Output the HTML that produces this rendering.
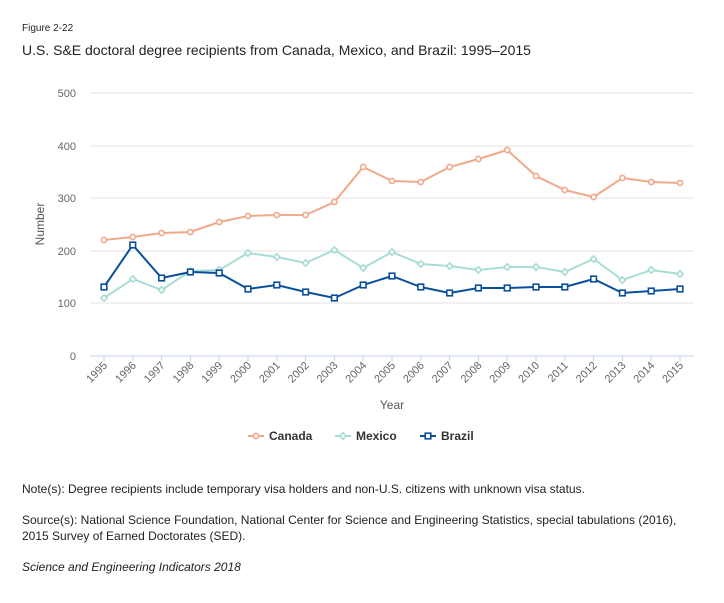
<!DOCTYPE html>
<html><head><meta charset="utf-8"><style>
body{margin:0;background:#fff;width:724px;height:598px;overflow:hidden;font-family:"Liberation Sans",sans-serif;}
</style></head><body>
<svg width="724" height="598" xmlns="http://www.w3.org/2000/svg" font-family="Liberation Sans, sans-serif">
<defs>
<marker id="mc" markerUnits="userSpaceOnUse" markerWidth="10" markerHeight="10" refX="5" refY="5"><circle cx="5" cy="5" r="2.6" fill="#fff" stroke="#f0a98a" stroke-width="1.6"/></marker>
<marker id="mm" markerUnits="userSpaceOnUse" markerWidth="10" markerHeight="10" refX="5" refY="5"><path d="M5 1.8 L8.2 5 L5 8.2 L1.8 5Z" fill="#fff" stroke="#a8ddd6" stroke-width="1.6"/></marker>
<marker id="mb" markerUnits="userSpaceOnUse" markerWidth="10" markerHeight="10" refX="5" refY="5"><rect x="2.2" y="2.2" width="5.6" height="5.6" fill="#fff" stroke="#0a4f9c" stroke-width="1.6"/></marker>
</defs>
<text x="22" y="31" font-size="10" fill="#222">Figure 2-22</text>
<text x="22" y="55" font-size="14" fill="#222">U.S. S&amp;E doctoral degree recipients from Canada, Mexico, and Brazil: 1995–2015</text>
<g stroke="#e3e3e3" stroke-width="1">
<line x1="90" x2="694" y1="93" y2="93"/><line x1="90" x2="694" y1="146" y2="146"/><line x1="90" x2="694" y1="198" y2="198"/><line x1="90" x2="694" y1="251" y2="251"/><line x1="90" x2="694" y1="303" y2="303"/>
</g>
<line x1="90" x2="694" y1="356" y2="356" stroke="#c5d3ea"/>
<g stroke="#c5d3ea"><line x1="104" x2="104" y1="356" y2="361"/><line x1="132.8" x2="132.8" y1="356" y2="361"/><line x1="161.6" x2="161.6" y1="356" y2="361"/><line x1="190.4" x2="190.4" y1="356" y2="361"/><line x1="219.2" x2="219.2" y1="356" y2="361"/><line x1="248" x2="248" y1="356" y2="361"/><line x1="276.8" x2="276.8" y1="356" y2="361"/><line x1="305.6" x2="305.6" y1="356" y2="361"/><line x1="334.4" x2="334.4" y1="356" y2="361"/><line x1="363.2" x2="363.2" y1="356" y2="361"/><line x1="392" x2="392" y1="356" y2="361"/><line x1="420.8" x2="420.8" y1="356" y2="361"/><line x1="449.6" x2="449.6" y1="356" y2="361"/><line x1="478.4" x2="478.4" y1="356" y2="361"/><line x1="507.2" x2="507.2" y1="356" y2="361"/><line x1="536" x2="536" y1="356" y2="361"/><line x1="564.8" x2="564.8" y1="356" y2="361"/><line x1="593.6" x2="593.6" y1="356" y2="361"/><line x1="622.4" x2="622.4" y1="356" y2="361"/><line x1="651.2" x2="651.2" y1="356" y2="361"/><line x1="680" x2="680" y1="356" y2="361"/></g>
<g font-size="11" fill="#666" text-anchor="end">
<text x="76" y="97">500</text><text x="76" y="150">400</text><text x="76" y="202">300</text><text x="76" y="255">200</text><text x="76" y="307">100</text><text x="76" y="360">0</text>
</g>
<g font-size="11" fill="#666" text-anchor="end">
<text transform="translate(108,366) rotate(-45)">1995</text><text transform="translate(136.8,366) rotate(-45)">1996</text><text transform="translate(165.6,366) rotate(-45)">1997</text><text transform="translate(194.4,366) rotate(-45)">1998</text><text transform="translate(223.2,366) rotate(-45)">1999</text><text transform="translate(252,366) rotate(-45)">2000</text><text transform="translate(280.8,366) rotate(-45)">2001</text><text transform="translate(309.6,366) rotate(-45)">2002</text><text transform="translate(338.4,366) rotate(-45)">2003</text><text transform="translate(367.2,366) rotate(-45)">2004</text><text transform="translate(396,366) rotate(-45)">2005</text><text transform="translate(424.8,366) rotate(-45)">2006</text><text transform="translate(453.6,366) rotate(-45)">2007</text><text transform="translate(482.4,366) rotate(-45)">2008</text><text transform="translate(511.2,366) rotate(-45)">2009</text><text transform="translate(540,366) rotate(-45)">2010</text><text transform="translate(568.8,366) rotate(-45)">2011</text><text transform="translate(597.6,366) rotate(-45)">2012</text><text transform="translate(626.4,366) rotate(-45)">2013</text><text transform="translate(655.2,366) rotate(-45)">2014</text><text transform="translate(684,366) rotate(-45)">2015</text>
</g>
<text x="392" y="409" font-size="12" fill="#555" text-anchor="middle">Year</text>
<text transform="translate(44,224) rotate(-90)" font-size="12" fill="#555" text-anchor="middle">Number</text>
<polyline fill="none" stroke="#a8ddd6" stroke-width="2" marker-start="url(#mm)" marker-mid="url(#mm)" marker-end="url(#mm)" points="104,298 132.8,279 161.6,290 190.4,271 219.2,270 248,253 276.8,257 305.6,263 334.4,250 363.2,268 392,252 420.8,264 449.6,266 478.4,270 507.2,267 536,267 564.8,272 593.6,259 622.4,280 651.2,270 680,274"/>
<polyline fill="none" stroke="#0a4f9c" stroke-width="2" marker-start="url(#mb)" marker-mid="url(#mb)" marker-end="url(#mb)" points="104,287 132.8,245 161.6,278 190.4,272 219.2,273 248,289 276.8,285 305.6,292 334.4,298 363.2,285 392,276 420.8,287 449.6,293 478.4,288 507.2,288 536,287 564.8,287 593.6,279 622.4,293 651.2,291 680,289"/>
<polyline fill="none" stroke="#f0a98a" stroke-width="2" marker-start="url(#mc)" marker-mid="url(#mc)" marker-end="url(#mc)" points="104,240 132.8,237 161.6,233 190.4,232 219.2,222 248,216 276.8,215 305.6,215 334.4,202 363.2,167 392,181 420.8,182 449.6,167 478.4,159 507.2,150 536,176 564.8,190 593.6,197 622.4,178 651.2,182 680,183"/>
<g font-size="12" font-weight="bold" fill="#333">
<line x1="248" x2="264" y1="436" y2="436" stroke="#f0a98a" stroke-width="2"/><circle cx="256" cy="436" r="2.6" fill="#fff" stroke="#f0a98a" stroke-width="1.6"/><text x="269" y="440">Canada</text>
<line x1="335" x2="351" y1="436" y2="436" stroke="#a8ddd6" stroke-width="2"/><path d="M343 432.8 L346.2 436 L343 439.2 L339.8 436Z" fill="#fff" stroke="#a8ddd6" stroke-width="1.6"/><text x="356" y="440">Mexico</text>
<line x1="420" x2="436" y1="436" y2="436" stroke="#0a4f9c" stroke-width="2"/><rect x="425.2" y="433.2" width="5.6" height="5.6" fill="#fff" stroke="#0a4f9c" stroke-width="1.6"/><text x="441" y="440">Brazil</text>
</g>
<g font-size="12" fill="#222">
<text x="22" y="493">Note(s): Degree recipients include temporary visa holders and non-U.S. citizens with unknown visa status.</text>
<text x="22" y="524">Source(s): National Science Foundation, National Center for Science and Engineering Statistics, special tabulations (2016),</text>
<text x="22" y="540">2015 Survey of Earned Doctorates (SED).</text>
<text x="22" y="571" font-style="italic">Science and Engineering Indicators 2018</text>
</g>
</svg>
</body></html>
